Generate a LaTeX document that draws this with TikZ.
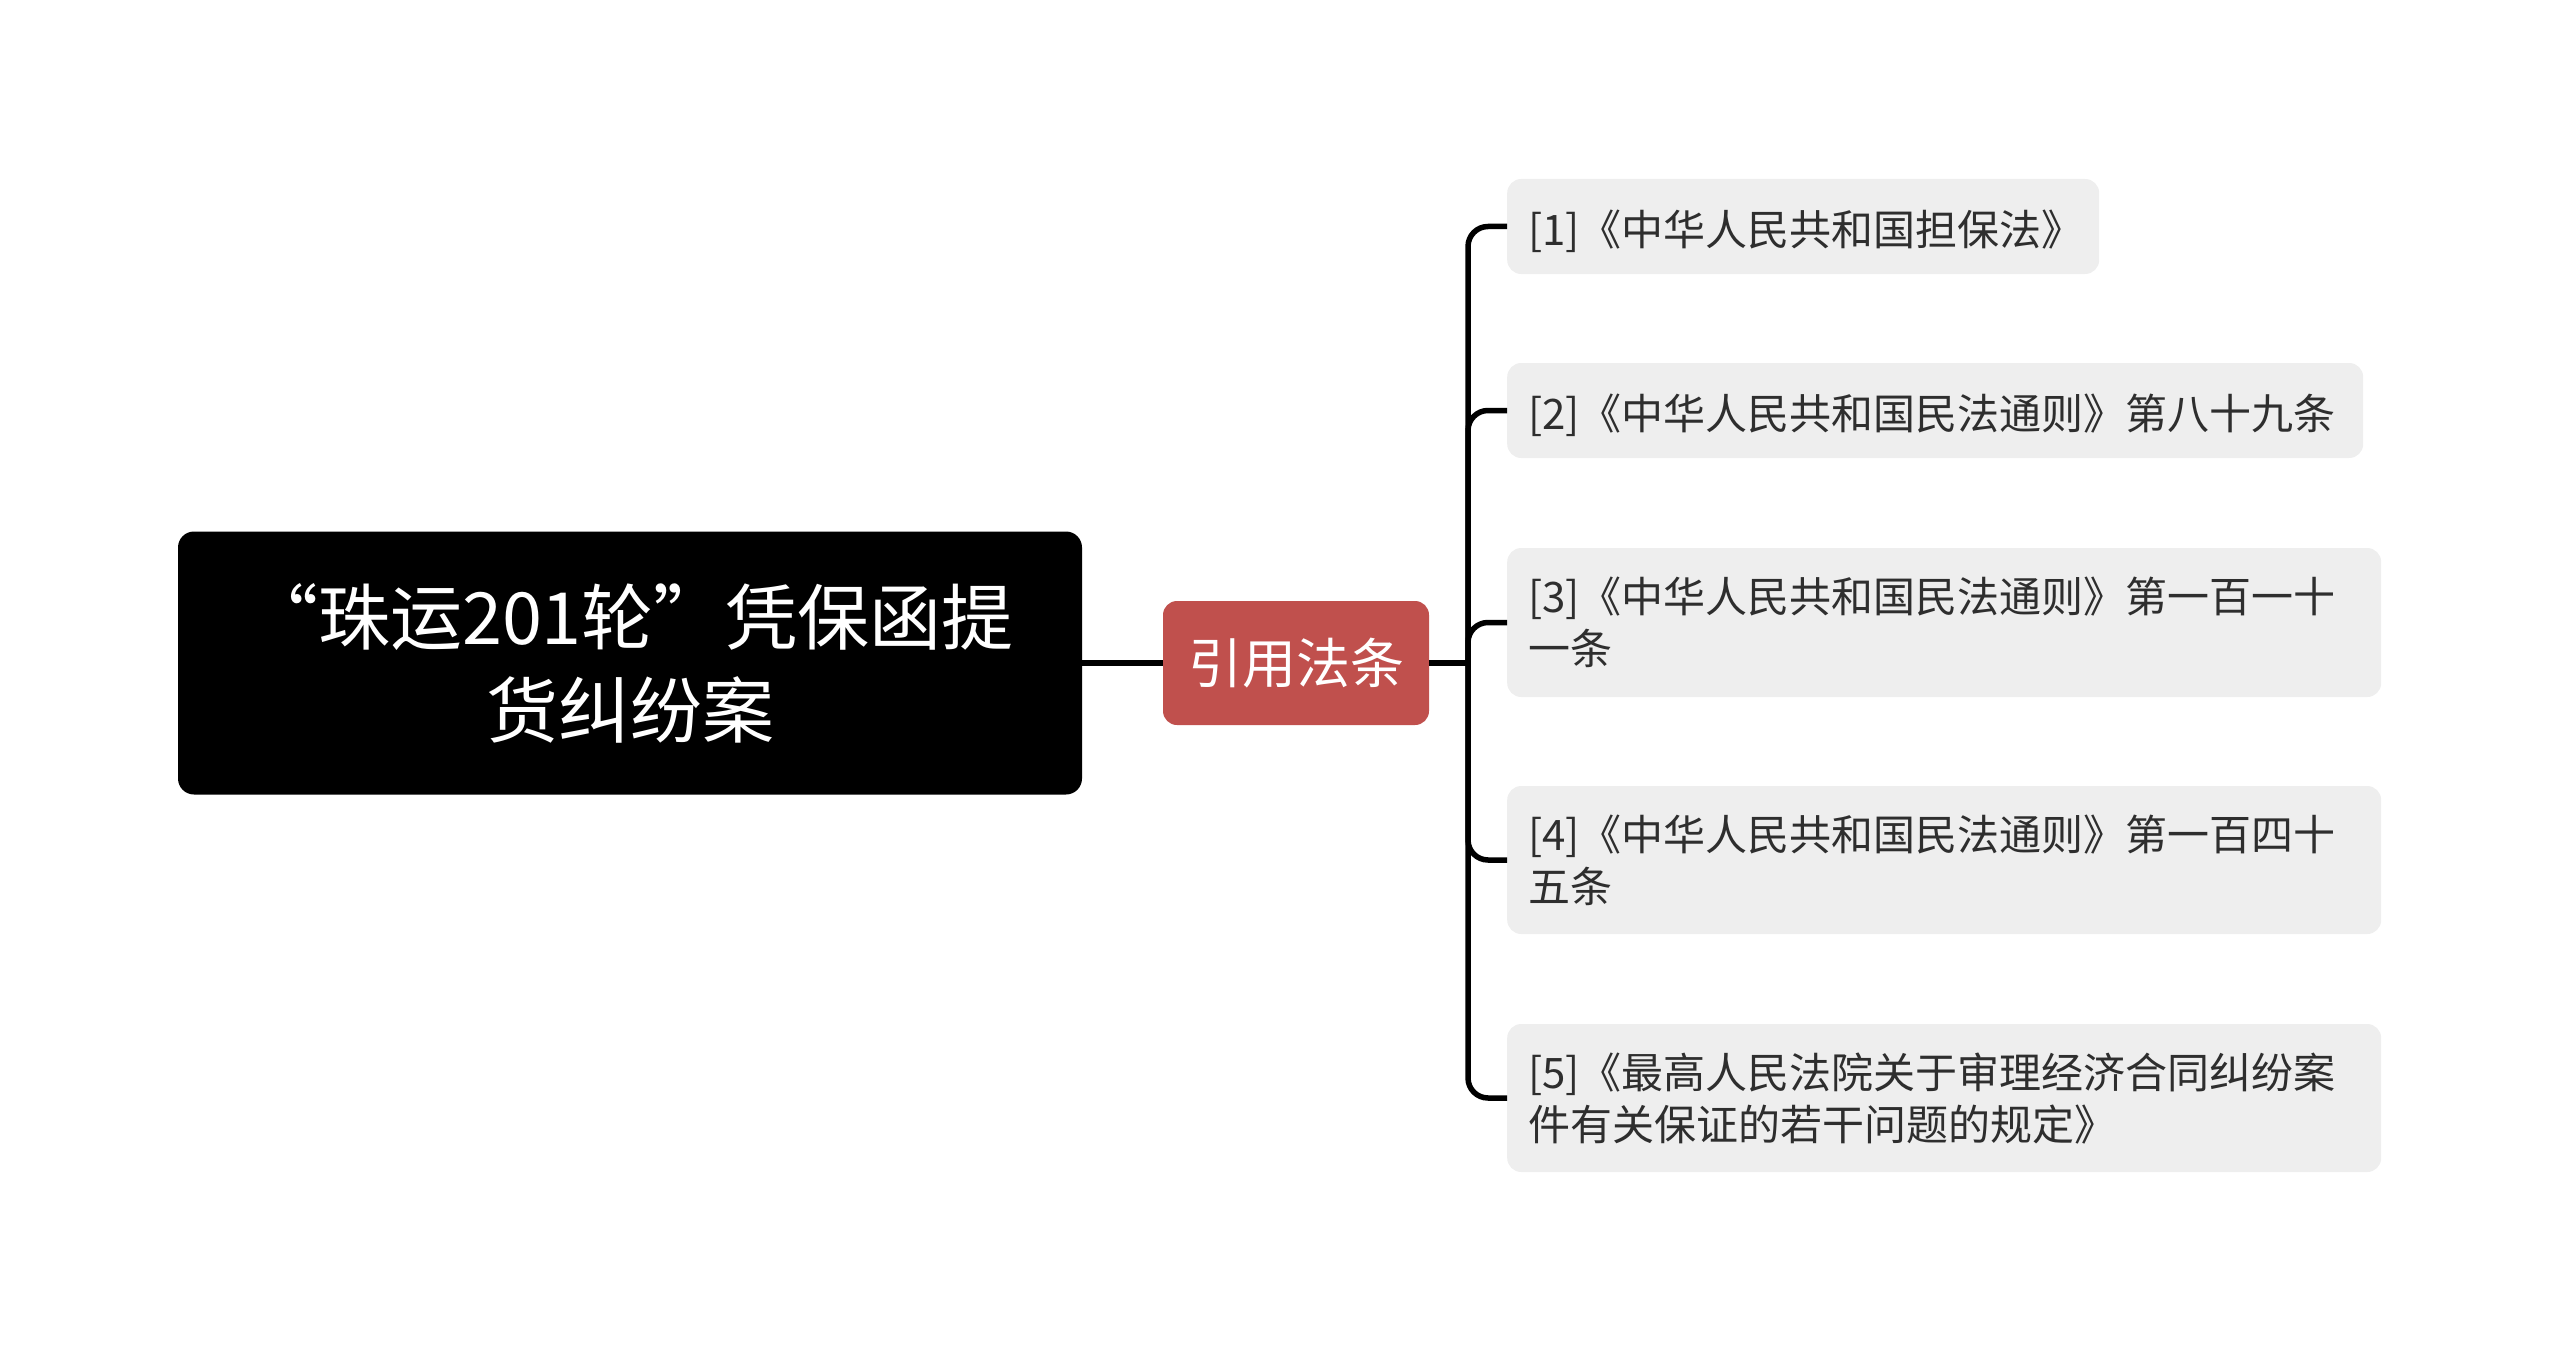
\documentclass[tikz,border=0pt]{standalone}
\usepackage{fontspec}
\newfontfamily\cjk{Noto Sans CJK SC}
\definecolor{redn}{HTML}{C0504D}
\definecolor{leafgray}{HTML}{EEEEEE}
\definecolor{textgray}{HTML}{2E2E2E}
\tikzset{
  rootbox/.style={fill=black, rounded corners=16pt, text=white,
    font=\cjk\fontsize{72pt}{93pt}\selectfont, align=center,
    minimum width=904pt, minimum height=263pt, inner sep=0pt},
  redbox/.style={fill=redn, rounded corners=14pt, text=white,
    font=\cjk\fontsize{54pt}{64pt}\selectfont,
    minimum width=266pt, minimum height=124pt, inner sep=0pt},
  leafbox/.style={fill=leafgray, rounded corners=14pt, text=textgray,
    font=\cjk\fontsize{42pt}{52pt}\selectfont, align=left, anchor=west,
    inner xsep=21pt, inner ysep=0pt},
  oneline/.style={text height=44pt, text depth=6pt},
  conn/.style={line width=5.5pt, draw=black}
}
\begin{document}
\begin{tikzpicture}[x=1pt,y=-1pt]
\useasboundingbox (0,0) rectangle (2560,1351);
\node[rootbox] (root) at (630,663) {“珠运201轮”凭保函提\\货纠纷案};
\node[redbox] (red) at (1296,663) {引用法条};
\node[leafbox, oneline, text width=550pt, minimum height=95pt] (l1) at (1507,226.5) {[1]《中华人民共和国担保法》};
\node[leafbox, oneline, text width=814pt, minimum height=95pt] (l2) at (1507,410.5) {[2]《中华人民共和国民法通则》第八十九条};
\node[leafbox, text width=832pt, minimum height=149pt] (l3) at (1507,622.5) {[3]《中华人民共和国民法通则》第一百一十\\一条};
\node[leafbox, text width=832pt, minimum height=148pt] (l4) at (1507,860) {[4]《中华人民共和国民法通则》第一百四十\\五条};
\node[leafbox, text width=832pt, minimum height=148pt] (l5) at (1507,1098) {[5]《最高人民法院关于审理经济合同纠纷案\\件有关保证的若干问题的规定》};
\coordinate (hub) at (1468,663);
\draw[conn] (root.east) -- (red.west);
\draw[conn] (red.east) -- (hub);
\foreach \n in {l1,l2,l3,l4,l5}
  \draw[conn, rounded corners=20pt] (hub) |- (\n.west);
\end{tikzpicture}
\end{document}
